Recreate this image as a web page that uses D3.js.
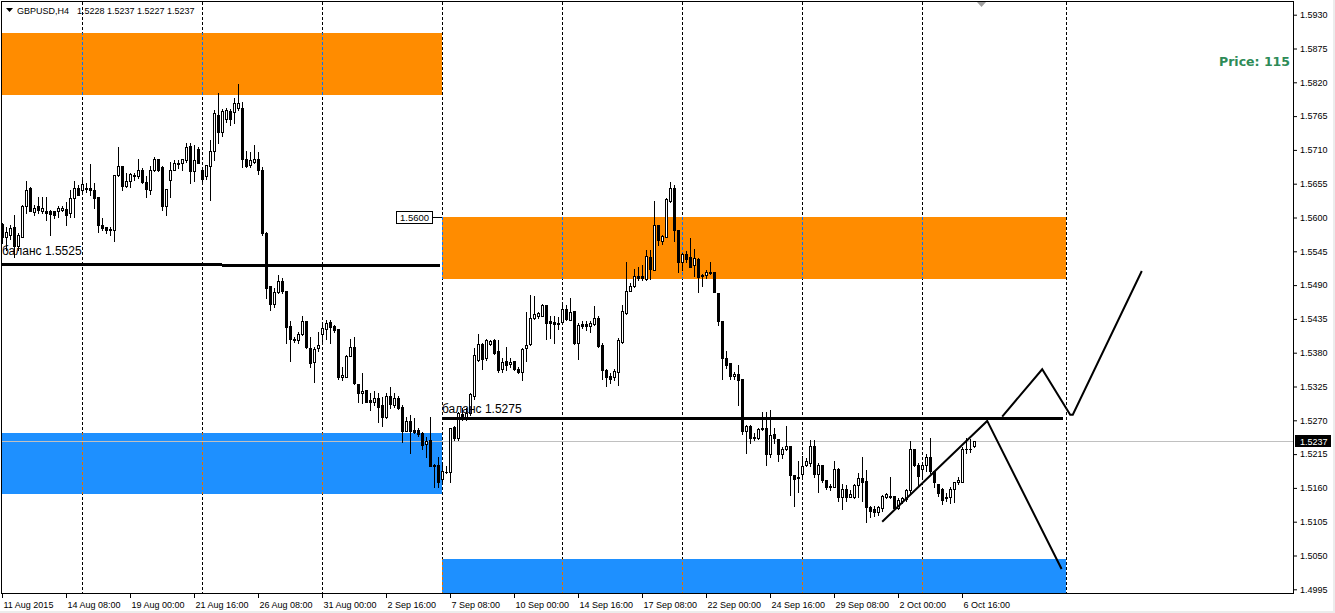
<!DOCTYPE html>
<html><head><meta charset="utf-8">
<script src="https://cdn.jsdelivr.net/npm/d3@7"></script>
<style>
html,body{margin:0;padding:0;background:#fff;overflow:hidden}
svg{display:block}
</style></head><body>
<svg id="c" width="1335" height="613"></svg>
<script>
// ---------------- DATA ----------------
const symbol = "GBPUSD,H4";
const lastBar = [1.5228, 1.5237, 1.5227, 1.5237];
const currentPrice = 1.5237;
const infoText = "Price: 115";

const timeLabels = ["11 Aug 2015","14 Aug 08:00","19 Aug 00:00","21 Aug 16:00","26 Aug 08:00","31 Aug 00:00","2 Sep 16:00","7 Sep 08:00","10 Sep 00:00","14 Sep 16:00","17 Sep 08:00","22 Sep 00:00","24 Sep 16:00","29 Sep 08:00","2 Oct 00:00","6 Oct 16:00"];
const timeLabelBars = [0,16,32,48,64,80,96,112,128,144,160,176,192,208,224,240];

const priceTicks = [1.4995,1.5050,1.5105,1.5160,1.5215,1.5270,1.5325,1.5380,1.5435,1.5490,1.5545,1.5600,1.5655,1.5710,1.5765,1.5820,1.5875,1.5930];

const openP = [
1.5589,1.5569,1.5572,1.5585,1.5553,1.5569,1.5618,1.5648,1.5609,1.5618,
1.5610,1.5611,1.5610,1.5610,1.5610,1.5612,1.5614,1.5607,1.5631,1.5648,
1.5645,1.5646,1.5648,1.5645,1.5634,1.5587,1.5584,1.5581,1.5580,1.5669,
1.5684,1.5651,1.5659,1.5668,1.5667,1.5678,1.5657,1.5645,1.5677,1.5695,
1.5682,1.5619,1.5661,1.5678,1.5687,1.5689,1.5694,1.5716,1.5676,1.5711,
1.5678,1.5667,1.5684,1.5709,1.5767,1.5739,1.5760,1.5774,1.5772,1.5778,
1.5778,1.5695,1.5686,1.5691,1.5696,1.5677,1.5575,1.5488,1.5460,1.5479,
1.5496,1.5480,1.5423,1.5403,1.5401,1.5411,1.5432,1.5387,1.5365,1.5387,
1.5411,1.5418,1.5430,1.5423,1.5419,1.5341,1.5341,1.5375,1.5389,1.5329,
1.5314,1.5319,1.5303,1.5300,1.5307,1.5295,1.5276,1.5309,1.5295,1.5307,
1.5292,1.5253,1.5269,1.5255,1.5254,1.5249,1.5231,1.5238,1.5197,1.5197,
1.5175,1.5186,1.5186,1.5259,1.5241,1.5280,1.5273,1.5282,1.5310,1.5368,
1.5394,1.5371,1.5394,1.5401,1.5383,1.5354,1.5367,1.5361,1.5367,1.5354,
1.5349,1.5387,1.5394,1.5436,1.5440,1.5440,1.5457,1.5431,1.5430,1.5429,
1.5430,1.5451,1.5434,1.5448,1.5395,1.5427,1.5427,1.5424,1.5426,1.5436,
1.5393,1.5352,1.5342,1.5340,1.5349,1.5398,1.5444,1.5481,1.5489,1.5505,
1.5505,1.5500,1.5536,1.5515,1.5588,1.5562,1.5569,1.5627,1.5648,1.5579,
1.5528,1.5540,1.5535,1.5522,1.5532,1.5504,1.5506,1.5512,1.5511,1.5477,
1.5431,1.5371,1.5363,1.5342,1.5345,1.5337,1.5252,1.5260,1.5243,1.5241,
1.5256,1.5258,1.5215,1.5248,1.5239,1.5215,1.5224,1.5228,1.5181,1.5176,
1.5183,1.5197,1.5200,1.5228,1.5183,1.5197,1.5173,1.5161,1.5162,1.5190,
1.5145,1.5158,1.5146,1.5146,1.5165,1.5176,1.5172,1.5129,1.5126,1.5120,
1.5127,1.5146,1.5147,1.5147,1.5127,1.5139,1.5142,1.5156,1.5223,1.5197,
1.5190,1.5197,1.5211,1.5187,1.5167,1.5159,1.5143,1.5145,1.5159,1.5169,
1.5170,1.5223,1.5224,1.5228];

const highP = [
1.5591,1.5585,1.5587,1.5604,1.5575,1.5621,1.5659,1.5649,1.5621,1.5634,
1.5634,1.5634,1.5612,1.5611,1.5618,1.5618,1.5626,1.5645,1.5659,1.5653,
1.5661,1.5656,1.5687,1.5656,1.5634,1.5599,1.5585,1.5585,1.5669,1.5715,
1.5684,1.5672,1.5672,1.5672,1.5695,1.5680,1.5667,1.5684,1.5699,1.5696,
1.5683,1.5646,1.5691,1.5694,1.5694,1.5696,1.5721,1.5721,1.5718,1.5715,
1.5682,1.5686,1.5726,1.5775,1.5802,1.5776,1.5778,1.5776,1.5794,1.5818,
1.5788,1.5709,1.5706,1.5718,1.5706,1.5682,1.5577,1.5488,1.5485,1.5507,
1.5501,1.5480,1.5431,1.5406,1.5414,1.5439,1.5432,1.5406,1.5389,1.5414,
1.5429,1.5433,1.5433,1.5425,1.5419,1.5357,1.5376,1.5402,1.5405,1.5329,
1.5347,1.5319,1.5314,1.5317,1.5314,1.5308,1.5314,1.5325,1.5314,1.5309,
1.5295,1.5276,1.5279,1.5273,1.5257,1.5251,1.5243,1.5275,1.5199,1.5211,
1.5197,1.5195,1.5257,1.5260,1.5284,1.5290,1.5290,1.5315,1.5387,1.5410,
1.5395,1.5402,1.5400,1.5402,1.5401,1.5371,1.5389,1.5371,1.5367,1.5357,
1.5387,1.5447,1.5474,1.5472,1.5446,1.5459,1.5458,1.5439,1.5440,1.5438,
1.5457,1.5458,1.5469,1.5448,1.5428,1.5431,1.5431,1.5432,1.5456,1.5440,
1.5395,1.5353,1.5347,1.5354,1.5404,1.5458,1.5528,1.5494,1.5517,1.5520,
1.5523,1.5547,1.5547,1.5627,1.5588,1.5572,1.5631,1.5657,1.5653,1.5580,
1.5543,1.5545,1.5566,1.5549,1.5534,1.5508,1.5515,1.5528,1.5511,1.5477,
1.5431,1.5382,1.5363,1.5349,1.5360,1.5337,1.5262,1.5262,1.5249,1.5257,
1.5283,1.5284,1.5287,1.5257,1.5239,1.5227,1.5260,1.5228,1.5181,1.5203,
1.5212,1.5208,1.5238,1.5238,1.5200,1.5197,1.5173,1.5167,1.5203,1.5192,
1.5167,1.5165,1.5157,1.5167,1.5185,1.5211,1.5189,1.5130,1.5131,1.5131,
1.5149,1.5152,1.5177,1.5147,1.5143,1.5146,1.5158,1.5237,1.5223,1.5200,
1.5200,1.5215,1.5242,1.5187,1.5167,1.5160,1.5151,1.5161,1.5170,1.5178,
1.5227,1.5241,1.5239,1.5237];

const lowP = [
1.5558,1.5547,1.5565,1.5536,1.5547,1.5569,1.5607,1.5610,1.5604,1.5607,
1.5607,1.5596,1.5572,1.5599,1.5601,1.5610,1.5588,1.5601,1.5601,1.5637,
1.5640,1.5642,1.5637,1.5615,1.5577,1.5580,1.5575,1.5572,1.5561,1.5667,
1.5645,1.5650,1.5650,1.5661,1.5664,1.5656,1.5633,1.5638,1.5676,1.5676,
1.5612,1.5604,1.5634,1.5677,1.5680,1.5677,1.5691,1.5656,1.5659,1.5688,
1.5655,1.5663,1.5629,1.5694,1.5721,1.5732,1.5756,1.5751,1.5753,1.5775,
1.5682,1.5682,1.5682,1.5688,1.5670,1.5572,1.5469,1.5450,1.5455,1.5477,
1.5477,1.5396,1.5367,1.5398,1.5395,1.5409,1.5387,1.5357,1.5333,1.5382,
1.5398,1.5403,1.5395,1.5414,1.5338,1.5336,1.5340,1.5374,1.5329,1.5300,
1.5298,1.5299,1.5287,1.5295,1.5268,1.5261,1.5273,1.5290,1.5292,1.5288,
1.5235,1.5252,1.5216,1.5249,1.5244,1.5224,1.5211,1.5196,1.5162,1.5162,
1.5167,1.5184,1.5169,1.5238,1.5238,1.5270,1.5270,1.5278,1.5305,1.5366,
1.5354,1.5368,1.5393,1.5378,1.5348,1.5349,1.5352,1.5357,1.5352,1.5347,
1.5336,1.5367,1.5393,1.5435,1.5437,1.5439,1.5403,1.5404,1.5396,1.5418,
1.5428,1.5433,1.5433,1.5394,1.5370,1.5421,1.5417,1.5414,1.5425,1.5390,
1.5338,1.5326,1.5331,1.5335,1.5327,1.5396,1.5443,1.5480,1.5487,1.5498,
1.5498,1.5498,1.5500,1.5515,1.5555,1.5557,1.5568,1.5626,1.5562,1.5512,
1.5515,1.5528,1.5519,1.5504,1.5478,1.5489,1.5501,1.5508,1.5478,1.5425,
1.5338,1.5355,1.5338,1.5338,1.5295,1.5247,1.5217,1.5233,1.5238,1.5239,
1.5254,1.5197,1.5211,1.5233,1.5203,1.5208,1.5222,1.5149,1.5131,1.5154,
1.5176,1.5195,1.5195,1.5178,1.5154,1.5170,1.5159,1.5156,1.5161,1.5138,
1.5125,1.5138,1.5145,1.5143,1.5146,1.5138,1.5104,1.5113,1.5114,1.5116,
1.5123,1.5143,1.5143,1.5125,1.5125,1.5136,1.5138,1.5152,1.5195,1.5165,
1.5174,1.5187,1.5185,1.5161,1.5147,1.5134,1.5138,1.5136,1.5137,1.5167,
1.5169,1.5217,1.5219,1.5227];

const closeP = [
1.5569,1.5577,1.5583,1.5553,1.5572,1.5618,1.5645,1.5610,1.5615,1.5612,
1.5616,1.5608,1.5605,1.5604,1.5616,1.5616,1.5604,1.5631,1.5648,1.5637,
1.5654,1.5648,1.5645,1.5631,1.5587,1.5583,1.5580,1.5579,1.5669,1.5684,
1.5651,1.5659,1.5670,1.5669,1.5678,1.5657,1.5646,1.5678,1.5695,1.5677,
1.5619,1.5646,1.5678,1.5688,1.5689,1.5695,1.5714,1.5676,1.5694,1.5689,
1.5663,1.5686,1.5709,1.5770,1.5739,1.5774,1.5775,1.5760,1.5786,1.5787,
1.5695,1.5684,1.5694,1.5696,1.5678,1.5575,1.5485,1.5460,1.5479,1.5496,
1.5480,1.5422,1.5403,1.5400,1.5411,1.5432,1.5389,1.5364,1.5386,1.5393,
1.5420,1.5428,1.5422,1.5417,1.5341,1.5343,1.5375,1.5389,1.5330,1.5315,
1.5318,1.5300,1.5299,1.5307,1.5292,1.5276,1.5309,1.5297,1.5306,1.5290,
1.5253,1.5269,1.5252,1.5251,1.5248,1.5229,1.5236,1.5196,1.5195,1.5169,
1.5187,1.5186,1.5257,1.5241,1.5282,1.5275,1.5282,1.5313,1.5376,1.5394,
1.5369,1.5401,1.5399,1.5379,1.5352,1.5365,1.5360,1.5365,1.5354,1.5349,
1.5386,1.5393,1.5437,1.5443,1.5444,1.5458,1.5429,1.5428,1.5427,1.5426,
1.5451,1.5435,1.5446,1.5395,1.5425,1.5424,1.5423,1.5428,1.5436,1.5391,
1.5352,1.5340,1.5338,1.5351,1.5400,1.5448,1.5481,1.5489,1.5504,1.5502,
1.5501,1.5537,1.5516,1.5588,1.5563,1.5570,1.5630,1.5648,1.5579,1.5527,
1.5540,1.5532,1.5520,1.5534,1.5503,1.5507,1.5511,1.5509,1.5478,1.5431,
1.5371,1.5360,1.5342,1.5345,1.5336,1.5252,1.5260,1.5241,1.5242,1.5256,
1.5258,1.5215,1.5246,1.5241,1.5215,1.5223,1.5228,1.5181,1.5174,1.5178,
1.5196,1.5203,1.5228,1.5183,1.5197,1.5173,1.5161,1.5163,1.5190,1.5145,
1.5158,1.5146,1.5150,1.5165,1.5176,1.5170,1.5129,1.5123,1.5120,1.5129,
1.5147,1.5150,1.5145,1.5127,1.5141,1.5143,1.5156,1.5223,1.5197,1.5180,
1.5197,1.5210,1.5187,1.5169,1.5151,1.5141,1.5146,1.5159,1.5169,1.5173,
1.5223,1.5224,1.5223,1.5237];

// period separators (bar index)
const separatorBars = [20,50,80,110,140,170,200,230,266];

// zones (bar index range, price range)
const zoneKind   = ["supply","supply","demand","demand"];
const zoneFrom   = [-5, 110, -5, 110];
const zoneTo     = [110, 266, 110, 266];
const zoneTop    = [1.5900, 1.5600, 1.5250, 1.5045];
const zoneBottom = [1.5800, 1.5500, 1.5150, 1.4950];
const zoneLabel  = [null, "1.5600", null, null];

// balance lines
const balanceLabels = ["баланс 1.5525", "баланс 1.5275"];
const balanceFrom   = [-1, 110];
const balanceTo     = [109.4, 265.2];
const balanceStart  = [1.5525, 1.5274];
const balanceEnd    = [1.5523, 1.5274];

// scenario paths
const downBars   = [220.05, 246.3, 264.9];
const downPrices = [1.5105, 1.5269, 1.5028];
const upBars     = [250.05, 260.05, 267.05, 267.7, 284.95];
const upPrices   = [1.5276, 1.5353, 1.5279, 1.5279, 1.5513];

// ---------------- DRAW ----------------
const FONT = "'Liberation Sans', Arial, sans-serif";
const svg = d3.select("#c");
svg.append("rect").attr("width",1335).attr("height",613).attr("fill","#fff");
svg.append("rect").attr("x",0).attr("y",611).attr("width",1335).attr("height",2).attr("fill","#ececec");
svg.append("rect").attr("x",1333).attr("y",0).attr("width",2).attr("height",613).attr("fill","#ececec");

const x = d3.scaleLinear().domain([0, 243]).range([2, 974]);
const y = d3.scaleLinear().domain([1.4995, 1.5930]).range([589.3, 14.7]);

const defs = svg.append("defs");
defs.append("clipPath").attr("id","plotClip").append("rect")
  .attr("x",2).attr("y",2).attr("width",1291).attr("height",591);

const gp = svg.append("g").attr("clip-path","url(#plotClip)");

const zoneColor = {supply:"#ff8c00", demand:"#1e90ff"};
const zoneInv   = {supply:"#0073ff", demand:"#e16f00"};
const zones = zoneKind.map((k,i)=>({kind:k, from:zoneFrom[i], to:zoneTo[i], top:zoneTop[i], bottom:zoneBottom[i], label:zoneLabel[i], id:i}));
const zr = d => ({x0:Math.round(x(d.from)), x1:Math.round(x(d.to)), y0:Math.round(y(d.top)), y1:Math.round(y(d.bottom))});

gp.selectAll("rect.zone").data(zones).join("rect").attr("class","zone")
  .attr("x",d=>zr(d).x0).attr("y",d=>zr(d).y0)
  .attr("width",d=>zr(d).x1-zr(d).x0).attr("height",d=>zr(d).y1-zr(d).y0)
  .attr("fill",d=>zoneColor[d.kind]);

// separators
function drawSeps(g, color){
  g.selectAll("line").data(separatorBars).join("line")
    .attr("x1",d=>x(d)+0.5).attr("x2",d=>x(d)+0.5)
    .attr("y1",2).attr("y2",593)
    .attr("stroke",color).attr("stroke-width",1).attr("stroke-dasharray","3,2");
}
drawSeps(gp.append("g"), "#000");
zones.forEach(z=>{
  const r = zr(z);
  defs.append("clipPath").attr("id","zc"+z.id).append("rect")
    .attr("x",r.x0).attr("y",r.y0).attr("width",r.x1-r.x0).attr("height",r.y1-r.y0);
  drawSeps(gp.append("g").attr("clip-path","url(#zc"+z.id+")"), zoneInv[z.kind]);
});

// current price line
gp.append("line").attr("x1",2).attr("x2",1293)
  .attr("y1",Math.round(y(currentPrice))+0.5).attr("y2",Math.round(y(currentPrice))+0.5)
  .attr("stroke","#c0c0c0").attr("stroke-width",1);

// candles
const bars = openP.map((o,i)=>({i, o, h:highP[i], l:lowP[i], c:closeP[i]}));
const gc = gp.append("g");
const cg = gc.selectAll("g").data(bars).join("g");
cg.append("line")
  .attr("x1",d=>x(d.i)+0.5).attr("x2",d=>x(d.i)+0.5)
  .attr("y1",d=>Math.round(y(d.h))).attr("y2",d=>Math.round(y(d.l))+1)
  .attr("stroke","#000").attr("stroke-width",1);
cg.each(function(d){
  const g = d3.select(this);
  const cx = x(d.i)+0.5;
  const yt = Math.round(y(Math.max(d.o,d.c)));
  const yb = Math.round(y(Math.min(d.o,d.c)));
  const hgt = yb - yt;
  if (hgt < 2) {
    g.append("rect").attr("x",cx-1.5).attr("y",yt).attr("width",3).attr("height",Math.max(hgt,0)+1).attr("fill","#000");
  } else if (d.c >= d.o) {
    g.append("rect").attr("x",cx-1).attr("y",yt+0.5).attr("width",2).attr("height",hgt)
      .attr("fill","#fff").attr("stroke","#000").attr("stroke-width",1);
  } else {
    g.append("rect").attr("x",cx-1.5).attr("y",yt).attr("width",3).attr("height",hgt+1).attr("fill","#000");
  }
});

// balance lines
const balances = balanceLabels.map((t,i)=>({t, a:balanceFrom[i], b:balanceTo[i], p0:balanceStart[i], p1:balanceEnd[i]}));
const labelOffsets = [8.5, 5];
gp.selectAll("line.bal").data(balances).join("line").attr("class","bal")
  .attr("x1",d=>x(d.a)).attr("x2",d=>x(d.b))
  .attr("y1",d=>Math.round(y(d.p0))+0.5).attr("y2",d=>Math.round(y(d.p1))+0.5)
  .attr("stroke","#000").attr("stroke-width",3).attr("shape-rendering","crispEdges");
gp.selectAll("text.bal").data(balances).join("text").attr("class","bal")
  .attr("x",d=>Math.max(x(d.a),2)+(d.a<0?0:0))
  .attr("y",(d,i)=>y(d.p0)-labelOffsets[i])
  .attr("font-family",FONT).attr("font-size",12).attr("fill","#000")
  .text(d=>d.t);

// scenario lines
const line = d3.line().x(d=>x(d[0])).y(d=>y(d[1]));
gp.append("path").datum(downBars.map((b,i)=>[b,downPrices[i]])).attr("d",line)
  .attr("fill","none").attr("stroke","#000").attr("stroke-width",2);
gp.append("path").datum(upBars.map((b,i)=>[b,upPrices[i]])).attr("d",line)
  .attr("fill","none").attr("stroke","#000").attr("stroke-width",2);

// zone price label
zones.filter(z=>z.label).forEach(z=>{
  const r = zr(z);
  const g = svg.append("g");
  g.append("line").attr("x1",r.x0-9).attr("x2",r.x0).attr("y1",r.y0+0.5).attr("y2",r.y0+0.5).attr("stroke","#000");
  g.append("rect").attr("x",r.x0-45.5).attr("y",r.y0-5.5).attr("width",36).attr("height",12)
    .attr("fill","#fff").attr("stroke","#000");
  g.append("text").attr("x",r.x0-27.5).attr("y",r.y0+4).attr("text-anchor","middle")
    .attr("font-family",FONT).attr("font-size",9.5).attr("fill","#000").text(z.label);
});

// info text
svg.append("text").attr("x",1290).attr("y",66).attr("text-anchor","end")
  .attr("font-family","'DejaVu Sans', sans-serif").attr("font-weight","bold").attr("font-size",12.5)
  .attr("fill","#2e8b57").text(infoText);

// shift marker
svg.append("path").attr("d","M977,2L986,2L981.5,7Z").attr("fill","#a0a0a0");

// frame
svg.append("rect").attr("x",1.5).attr("y",1.5).attr("width",1292).attr("height",592)
  .attr("fill","none").attr("stroke","#000").attr("stroke-width",1);

// title
svg.append("path").attr("d","M6,8L13,8L9.5,12Z").attr("fill","#000");
svg.append("text").attr("x",17).attr("y",13.5).attr("font-family",FONT).attr("font-size",9).attr("fill","#000")
  .text(symbol);
svg.append("text").attr("x",77).attr("y",13.5).attr("font-family",FONT).attr("font-size",9).attr("fill","#000")
  .text(lastBar.map(v=>v.toFixed(4)).join(" "));

// right axis
const yAxis = d3.axisRight(y).tickValues(priceTicks).tickFormat(d3.format(".4f"))
  .tickSizeInner(4).tickSizeOuter(0).tickPadding(3);
const ga = svg.append("g").attr("transform","translate(1293,0)").call(yAxis);
ga.select(".domain").remove();
ga.selectAll("text").attr("font-family",FONT).attr("font-size",9).attr("fill","#000");
ga.selectAll("line").attr("stroke","#000");

// current price tag
const cpY = Math.round(y(currentPrice));
svg.append("rect").attr("x",1295).attr("y",cpY-6).attr("width",36).attr("height",12).attr("fill","#000");
svg.append("text").attr("x",1300).attr("y",cpY+3.5).attr("font-family",FONT).attr("font-size",9)
  .attr("fill","#fff").text(currentPrice.toFixed(4));

// bottom axis
const xAxis = d3.axisBottom(x).tickValues(timeLabelBars).tickFormat((d,i)=>timeLabels[i])
  .tickSizeInner(4).tickSizeOuter(0).tickPadding(4);
const gb = svg.append("g").attr("transform","translate(0,594)").call(xAxis);
gb.select(".domain").remove();
gb.selectAll("text").attr("font-family",FONT).attr("font-size",9).attr("fill","#000")
  .attr("text-anchor","start").attr("dx",1);
gb.selectAll("line").attr("stroke","#000");
</script>
</body></html>
